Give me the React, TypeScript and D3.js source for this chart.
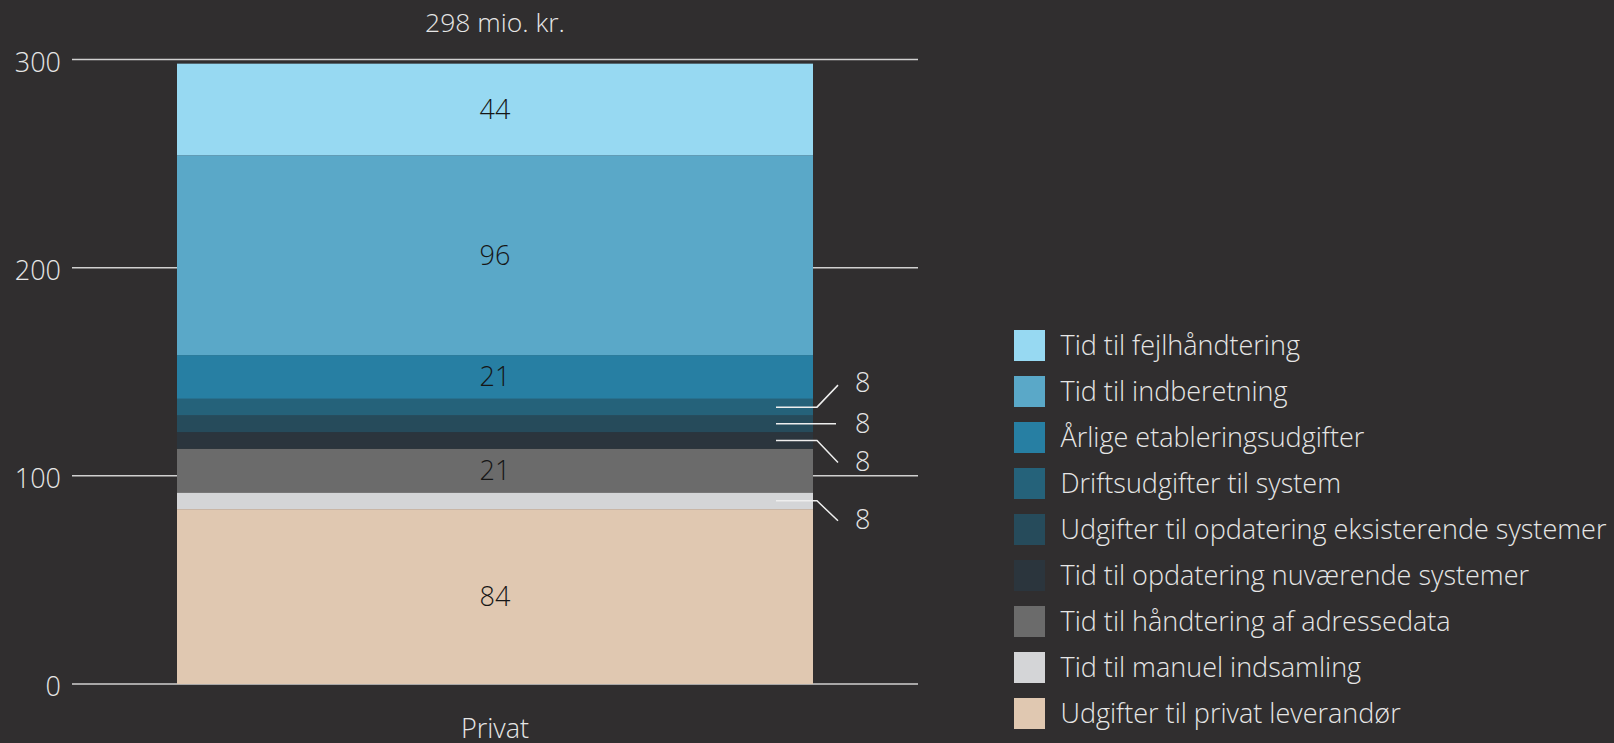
import React from "react";
import * as d3 from "d3";

// Cost components (mio. kr.), bottom of the stack first
const categories = ["Privat"];
const seriesNames = [
  "Udgifter til privat leverandør",
  "Tid til manuel indsamling",
  "Tid til håndtering af adressedata",
  "Tid til opdatering nuværende systemer",
  "Udgifter til opdatering eksisterende systemer",
  "Driftsudgifter til system",
  "Årlige etableringsudgifter",
  "Tid til indberetning",
  "Tid til fejlhåndtering",
];
const seriesValues = [84, 8, 21, 8, 8, 8, 21, 96, 44];
const seriesColors = [
  "#e0c8b1",
  "#d4d5d7",
  "#6b6b6b",
  "#2b353d",
  "#264b5b",
  "#25627a",
  "#277fa3",
  "#5aa8c8",
  "#97d9f2",
];
const yTicks = [0, 100, 200, 300];
const totalLabel = "298 mio. kr.";

const W = 1614;
const H = 743;
const BG = "#302e2f";
const TEXT = "#e6e6e6";
const FONT = "'Open Sans', Lato, sans-serif";

export default function App() {
  const y = d3.scaleLinear().domain([0, 300]).range([684, 59.5]);
  const x = d3.scaleBand<string>().domain(categories).range([72, 918]).padding(0.1417);

  const row: Record<string, number> = {};
  seriesNames.forEach((n, i) => (row[n] = seriesValues[i]));
  const stacked = d3.stack<Record<string, number>>().keys(seriesNames)([row]);

  const bx = x(categories[0]) as number;
  const bw = x.bandwidth();
  const cx = bx + bw / 2;

  // thin segments get a leader line to an outside label; dy = vertical offset of the line end
  const calloutOffsets: Record<number, number> = { 1: 20, 3: 22, 4: 0, 5: -22 };

  return (
    <svg
      width={W}
      height={H}
      style={{ position: "absolute", left: 0, top: 0, display: "block" }}
      fontFamily={FONT}
      fontWeight={300}
    >
      <rect width={W} height={H} fill={BG} />

      {/* grid lines and y-axis labels */}
      {yTicks.map((t) => (
        <g key={t}>
          <line x1={72} x2={918} y1={y(t)} y2={y(t)} stroke="#d0d0d0" strokeWidth={1.5} />
          <text x={61} y={y(t) + 12} textAnchor="end" fill={TEXT} fontSize={27}>
            {t}
          </text>
        </g>
      ))}

      {/* stacked segments */}
      {stacked.map((s, i) => {
        const [y0, y1] = s[0];
        return (
          <rect
            key={s.key}
            x={bx}
            width={bw}
            y={y(y1)}
            height={y(y0) - y(y1)}
            fill={seriesColors[i]}
          />
        );
      })}

      {/* values inside segments */}
      {stacked.map((s, i) => {
        if (calloutOffsets[i] !== undefined) return null;
        const [y0, y1] = s[0];
        const my = y((y0 + y1) / 2);
        return (
          <text
            key={"v" + s.key}
            x={cx}
            y={my + 9.5}
            textAnchor="middle"
            fill="#161616"
            fontSize={27}
          >
            {seriesValues[i]}
          </text>
        );
      })}

      {/* callouts for the thin segments */}
      {stacked.map((s, i) => {
        const dy = calloutOffsets[i];
        if (dy === undefined) return null;
        const [y0, y1] = s[0];
        const my = y((y0 + y1) / 2);
        const right = bx + bw;
        const pts: [number, number][] =
          dy === 0
            ? [
                [right - 37, my],
                [right + 23, my],
              ]
            : [
                [right - 37, my],
                [right + 4, my],
                [right + 25, my + dy],
              ];
        const labelY = my + dy + (dy < 0 ? -2.5 : dy > 0 ? -1 : 0) + 9.5;
        return (
          <g key={"c" + s.key}>
            <path d={d3.line()(pts) as string} fill="none" stroke="#eeeeee" strokeWidth={1.5} />
            <text x={855} y={labelY} fill={TEXT} fontSize={27}>
              {seriesValues[i]}
            </text>
          </g>
        );
      })}

      {/* total above bar */}
      <text x={cx} y={32} textAnchor="middle" fill={TEXT} fontSize={26.5}>
        {totalLabel}
      </text>

      {/* category label */}
      <text x={cx} y={738} textAnchor="middle" fill={TEXT} fontSize={27}>
        {categories[0]}
      </text>

      {/* legend, top item = top of stack */}
      {seriesNames
        .map((n, i) => ({ n, c: seriesColors[i] }))
        .reverse()
        .map((d, k) => (
          <g key={d.n} transform={`translate(1014, ${330 + k * 46})`}>
            <rect width={31} height={31} fill={d.c} />
            <text x={46.5} y={25} fill={TEXT} fontSize={27}>
              {d.n}
            </text>
          </g>
        ))}
    </svg>
  );
}
